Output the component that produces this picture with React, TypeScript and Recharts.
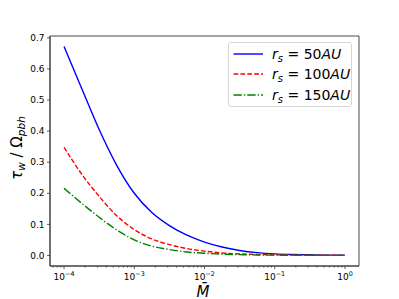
import React from 'react';
import { LineChart, Line, XAxis, YAxis, Legend, ReferenceArea } from 'recharts';

// M-bar sample points (quarter decades from 1e-4 to 1)
const massValues = [
  1e-4, 1.778e-4, 3.162e-4, 5.623e-4, 1e-3, 1.778e-3, 3.162e-3, 5.623e-3, 1e-2,
  1.778e-2, 3.162e-2, 5.623e-2, 1e-1, 1.778e-1, 3.162e-1, 5.623e-1, 1,
];
const tau50 = [0.672, 0.538, 0.405, 0.29, 0.2, 0.138, 0.096, 0.065, 0.043, 0.027, 0.016, 0.009, 0.005, 0.003, 0.002, 0.001, 0.001];
const tau100 = [0.348, 0.262, 0.19, 0.128, 0.083, 0.053, 0.035, 0.022, 0.014, 0.008, 0.005, 0.003, 0.002, 0.001, 0.001, 0.0005, 0.0005];
const tau150 = [0.216, 0.168, 0.123, 0.082, 0.05, 0.03, 0.019, 0.011, 0.007, 0.004, 0.0025, 0.0015, 0.001, 0.0005, 0.0005, 0.0003, 0.0003];

const seriesLabels = ['50', '100', '150'];
const majorTicks = [1e-4, 1e-3, 1e-2, 1e-1, 1];
const majorExponents = ['\u22124', '\u22123', '\u22122', '\u22121', '0'];
const minorTicks = [
  7e-5, 8e-5, 9e-5,
  2e-4, 3e-4, 4e-4, 5e-4, 6e-4, 7e-4, 8e-4, 9e-4,
  2e-3, 3e-3, 4e-3, 5e-3, 6e-3, 7e-3, 8e-3, 9e-3,
  2e-2, 3e-2, 4e-2, 5e-2, 6e-2, 7e-2, 8e-2, 9e-2,
  2e-1, 3e-1, 4e-1, 5e-1, 6e-1, 7e-1, 8e-1, 9e-1,
];
const yTicks = [0, 0.1, 0.2, 0.3, 0.4, 0.5, 0.6, 0.7];

const data = massValues.map((m, i) => ({ m, s50: tau50[i], s100: tau100[i], s150: tau150[i] }));

const X_DOMAIN = [Math.pow(10, -4.2), Math.pow(10, 0.2)];
const Y_DOMAIN = [-0.034, 0.706];
const FONT = 'DejaVu Sans, sans-serif';
const SPINE = '#333';

const lineStyles = [
  { key: 's50', color: '#0000ff', dash: undefined },
  { key: 's100', color: '#ff0000', dash: '4.8 2.1' },
  { key: 's150', color: '#008000', dash: '8.3 2.1 1.3 2.1' },
];

function XTick({ x, y, payload }: any) {
  const idx = majorTicks.indexOf(payload.value);
  const major = idx >= 0;
  return (
    <g>
      <line x1={x} x2={x} y1={y} y2={y + (major ? 3 : 1.8)} stroke={SPINE} strokeWidth={major ? 0.8 : 0.6} />
      {major && (
        <text x={x} y={y + 14} textAnchor="middle" fontSize={9} fontFamily={FONT} fill="#000">
          10<tspan dy={-4} fontSize={6.4}>{majorExponents[idx]}</tspan>
        </text>
      )}
    </g>
  );
}

function YTick({ x, y, payload }: any) {
  return (
    <g>
      <line x1={x - 3} x2={x} y1={y} y2={y} stroke={SPINE} strokeWidth={0.8} />
      <text x={x - 5.5} y={y} dy="0.35em" textAnchor="end" fontSize={9} fontFamily={FONT} fill="#000">
        {payload.value.toFixed(1)}
      </text>
    </g>
  );
}

const renderXLabel = () => (
  <text x={203} y={296.5} textAnchor="middle" fontSize={15} fontStyle="italic" fontFamily={FONT} fill="#000">
    M{'\u0304'}
  </text>
);

const renderYLabel = () => (
  <text
    x={21.5}
    y={148}
    transform="rotate(-90, 21.5, 148)"
    textAnchor="middle"
    fontSize={15}
    fontFamily={FONT}
    fill="#000"
  >
    <tspan fontStyle="italic">τ</tspan>
    <tspan fontStyle="italic" fontSize={10.5} dy={3}>w</tspan>
    <tspan dy={-3}>{' / Ω'}</tspan>
    <tspan fontStyle="italic" fontSize={10.5} dy={3}>pbh</tspan>
  </text>
);

const renderLegend = () => (
  <div
    style={{
      position: 'relative',
      width: 124,
      height: 65,
      boxSizing: 'border-box',
      border: '1px solid #d6d6d6',
      borderRadius: 3,
      background: 'rgba(255,255,255,0.8)',
      fontFamily: FONT,
    }}
  >
    {seriesLabels.map((label, i) => (
      <div key={label} style={{ position: 'absolute', left: 0, top: 1 + i * 20.3, height: 20, width: 124 }}>
        <svg width={32} height={20} style={{ position: 'absolute', left: 4, top: 0 }}>
          <line
            x1={0.5}
            x2={30}
            y1={10}
            y2={10}
            stroke={lineStyles[i].color}
            strokeWidth={1.4}
            strokeDasharray={lineStyles[i].dash}
          />
        </svg>
        <span
          style={{
            position: 'absolute',
            left: 43,
            top: 0,
            lineHeight: '20px',
            fontSize: 14,
            color: '#000',
            whiteSpace: 'nowrap',
          }}
        >
          <i>r</i>
          <i style={{ fontSize: 10, position: 'relative', top: 3 }}>s</i>
          {' = '}
          {label}
          <i>AU</i>
        </span>
      </div>
    ))}
  </div>
);

export default function App() {
  return (
    <div style={{ position: 'fixed', left: 0, top: 0, width: 399, height: 299, background: '#fff' }}>
      <LineChart width={399} height={299} data={data} margin={{ top: 36, right: 40, left: 0, bottom: 0 }}>
        <XAxis
          dataKey="m"
          type="number"
          scale="log"
          domain={X_DOMAIN}
          allowDataOverflow
          ticks={[...majorTicks, ...minorTicks]}
          interval={0}
          tick={<XTick />}
          tickLine={false}
          tickSize={0}
          tickMargin={0}
          height={33}
          axisLine={{ stroke: SPINE, strokeWidth: 0.9 }}
          label={renderXLabel}
        />
        <YAxis
          type="number"
          domain={Y_DOMAIN}
          allowDataOverflow
          ticks={yTicks}
          interval={0}
          tick={<YTick />}
          tickLine={false}
          tickSize={0}
          tickMargin={0}
          width={50}
          axisLine={{ stroke: SPINE, strokeWidth: 0.9 }}
          label={renderYLabel}
        />
        <ReferenceArea
          x1={X_DOMAIN[0]}
          x2={X_DOMAIN[1]}
          y1={Y_DOMAIN[0]}
          y2={Y_DOMAIN[1]}
          ifOverflow="visible"
          fill="none"
          stroke={SPINE}
          strokeWidth={0.9}
        />
        <Legend
          layout="horizontal"
          verticalAlign="middle"
          align="center"
          content={renderLegend}
          wrapperStyle={{ left: 228, top: 42, width: 124, height: 65 }}
        />
        {lineStyles.map((s) => (
          <Line
            key={s.key}
            dataKey={s.key}
            type="monotone"
            stroke={s.color}
            strokeWidth={1.4}
            strokeDasharray={s.dash}
            dot={false}
            activeDot={false}
            isAnimationActive={false}
          />
        ))}
      </LineChart>
    </div>
  );
}
